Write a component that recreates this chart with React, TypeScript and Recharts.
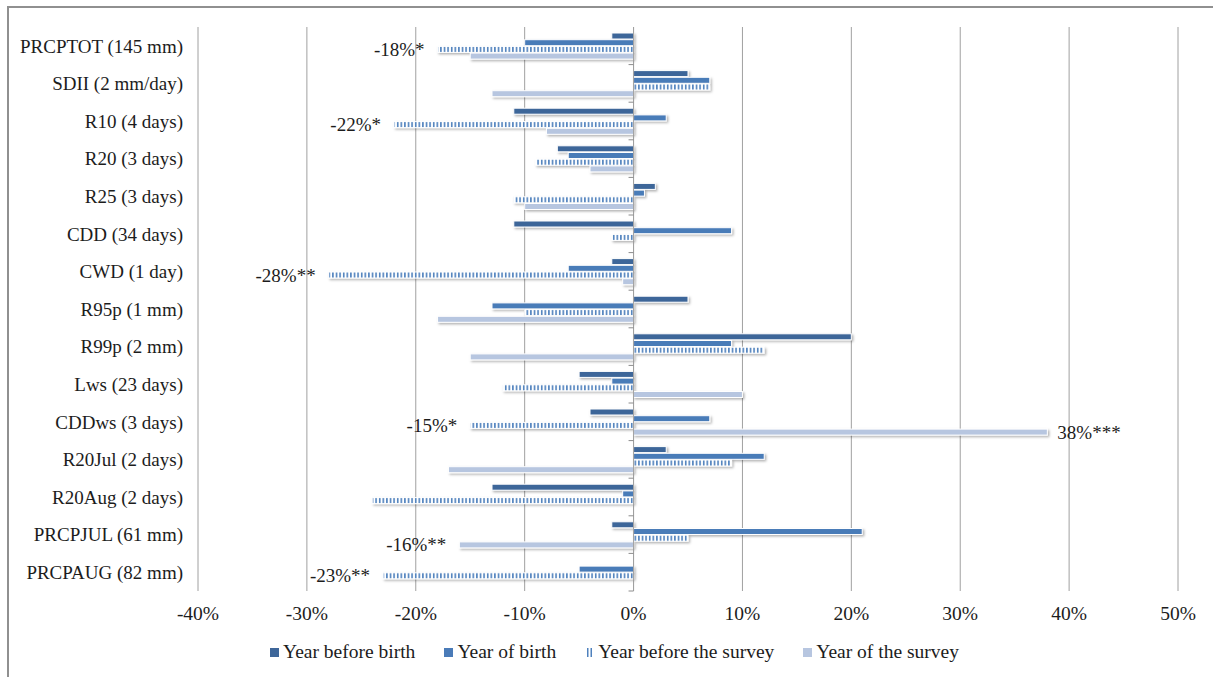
import React from "react";
import { BarChart, Bar, XAxis, YAxis, CartesianGrid, Legend, LabelList, ReferenceLine } from "recharts";

const categories = [
  "PRCPTOT (145 mm)",
  "SDII (2 mm/day)",
  "R10 (4 days)",
  "R20 (3 days)",
  "R25 (3 days)",
  "CDD (34 days)",
  "CWD (1 day)",
  "R95p (1 mm)",
  "R99p (2 mm)",
  "Lws (23 days)",
  "CDDws (3 days)",
  "R20Jul (2 days)",
  "R20Aug (2 days)",
  "PRCPJUL (61 mm)",
  "PRCPAUG (82 mm)",
];

const seriesNames = ["Year before birth", "Year of birth", "Year before the survey", "Year of the survey"];

const yearBeforeBirth = [-2, 5, -11, -7, 2, -11, -2, 5, 20, -5, -4, 3, -13, -2, 0];
const yearOfBirth = [-10, 7, 3, -6, 1, 9, -6, -13, 9, -2, 7, 12, -1, 21, -5];
const yearBeforeSurvey = [-18, 7, -22, -9, -11, -2, -28, -10, 12, -12, -15, 9, -24, 5, -23];
const yearOfSurvey = [-15, -13, -8, -4, -10, 0, -1, -18, -15, 10, 38, -17, 0, -16, 0];

const yearBeforeSurveyNotes = ["-18%*", "", "-22%*", "", "", "", "-28%**", "", "", "", "-15%*", "", "", "", "-23%**"];
const yearOfSurveyNotes = ["", "", "", "", "", "", "", "", "", "", "38%***", "", "", "-16%**", ""];

const xTicks = [-40, -30, -20, -10, 0, 10, 20, 30, 40, 50];

const data = categories.map((name, i) => ({
  name,
  ybb: yearBeforeBirth[i],
  yob: yearOfBirth[i],
  ybs: yearBeforeSurvey[i],
  yos: yearOfSurvey[i],
  ybsNote: yearBeforeSurveyNotes[i],
  yosNote: yearOfSurveyNotes[i],
}));

const C_YBB = "#3E6699";
const C_YOB = "#4A7BB8";
const C_STRIPE = "#4F81BD";
const C_YOS = "#B7C6E0";
const GRID = "#A0A0A0";
const FONT = "'Liberation Serif', 'Times New Roman', serif";
const TEXT = "#1c1c1c";

const BarShape = (props: any) => {
  const { x, y, width, height, fill } = props;
  if (!width || Math.abs(width) < 0.5) return null;
  const left = Math.min(x, x + width);
  const w = Math.abs(width);
  return (
    <rect
      x={left}
      y={y}
      width={w}
      height={height}
      fill={fill}
      stroke="#ffffff"
      strokeWidth={1}
      filter="url(#barShadow)"
    />
  );
};

const Note = (props: any) => {
  const { x, y, width, height, value } = props;
  if (!value) return null;
  const left = Math.min(x, x + width);
  const right = Math.max(x, x + width);
  const neg = String(value).startsWith("-");
  return (
    <text
      x={neg ? left - 13 : right + 10}
      y={y + height / 2}
      textAnchor={neg ? "end" : "start"}
      dominantBaseline="central"
      style={{ fontFamily: FONT, fontSize: 19 }}
      fill={TEXT}
    >
      {value}
    </text>
  );
};

// category-boundary tick marks drawn on the zero line (category axis crosses at 0)
const ZeroTicks = (props: any) => {
  const vb = props.viewBox || {};
  const x0 = vb.x ?? 0;
  const top = vb.y ?? 0;
  const h = vb.height ?? 0;
  const n = categories.length;
  const marks = [];
  for (let k = 1; k <= n; k++) {
    const yy = top + (h * k) / n;
    marks.push(<line key={k} x1={x0 - 5} x2={x0} y1={yy} y2={yy} stroke="#8C8C8C" strokeWidth={1} />);
  }
  return <g>{marks}</g>;
};

const legendFills = [C_YBB, C_YOB, "stripes", C_YOS];

const LegendContent = () => (
  <div
    style={{
      display: "flex",
      justifyContent: "center",
      gap: 29,
      paddingLeft: 16,
      fontFamily: FONT,
      fontSize: 19.5,
      color: TEXT,
      lineHeight: "22px",
    }}
  >
    {seriesNames.map((n, i) => (
      <div key={n} style={{ display: "flex", alignItems: "center" }}>
        <svg width={9} height={9} style={{ marginRight: 4 }}>
          {legendFills[i] === "stripes" ? (
            <g>
              <rect x={2} y={0} width={1.5} height={9} fill={C_STRIPE} />
              <rect x={5.5} y={0} width={1.5} height={9} fill={C_STRIPE} />
            </g>
          ) : (
            <rect x={0} y={0} width={9} height={9} fill={legendFills[i]} />
          )}
        </svg>
        <span>{n}</span>
      </div>
    ))}
  </div>
);

export default function App() {
  return (
    <div
      style={{
        position: "fixed",
        left: 0,
        top: 0,
        width: 1213,
        height: 677,
        overflow: "hidden",
        background: "#fff",
      }}
    >
      <svg width={0} height={0} style={{ position: "absolute" }}>
        <defs>
          <pattern id="stripes" patternUnits="userSpaceOnUse" width={3.6} height={10}>
            <rect x={0} y={0} width={3.6} height={10} fill="#ffffff" />
            <rect x={0.9} y={0} width={1.6} height={10} fill={C_STRIPE} />
          </pattern>
          <filter id="barShadow" x="-20%" y="-100%" width="150%" height="350%">
            <feDropShadow dx={1.5} dy={1.5} stdDeviation={1} floodColor="#000" floodOpacity={0.3} />
          </filter>
        </defs>
      </svg>
      <div
        style={{
          position: "absolute",
          left: 7,
          top: 6,
          width: 1240,
          height: 700,
          borderLeft: "2px solid #909090",
          borderTop: "2px solid #909090",
        }}
      />
      <div style={{ position: "absolute", left: 0, top: 0 }}>
        <BarChart
          width={1213}
          height={677}
          data={data}
          layout="vertical"
          margin={{ top: 27, right: 35, bottom: 56, left: 0 }}
          barGap={0.7}
        >
          <CartesianGrid horizontal={false} vertical={true} stroke={GRID} strokeWidth={1} />
          <XAxis
            type="number"
            domain={[-40, 50]}
            ticks={xTicks}
            allowDataOverflow
            tickFormatter={(v: number) => `${v}%`}
            axisLine={false}
            tickLine={false}
            tickMargin={9}
            height={30}
            tick={{ style: { fontFamily: FONT, fontSize: 19.5 }, fill: TEXT }}
          />
          <XAxis
            xAxisId="top"
            orientation="top"
            type="number"
            domain={[-40, 50]}
            ticks={xTicks}
            allowDataOverflow
            tick={false}
            tickLine={{ stroke: GRID }}
            tickSize={6}
            axisLine={{ stroke: GRID }}
            height={0}
          />
          <YAxis
            type="category"
            dataKey="name"
            width={198}
            axisLine={false}
            tickLine={false}
            tickSize={6}
            tickMargin={9}
            interval={0}
            tick={{ style: { fontFamily: FONT, fontSize: 19 }, fill: TEXT }}
          />
          <ReferenceLine x={0} stroke={GRID} strokeWidth={1} label={<ZeroTicks />} />
          <Bar dataKey="ybb" name={seriesNames[0]} fill={C_YBB} barSize={6} isAnimationActive={false} shape={BarShape} />
          <Bar dataKey="yob" name={seriesNames[1]} fill={C_YOB} barSize={6} isAnimationActive={false} shape={BarShape} />
          <Bar dataKey="ybs" name={seriesNames[2]} fill="url(#stripes)" barSize={6} isAnimationActive={false} shape={BarShape}>
            <LabelList dataKey="ybsNote" content={Note} />
          </Bar>
          <Bar dataKey="yos" name={seriesNames[3]} fill={C_YOS} barSize={6} isAnimationActive={false} shape={BarShape}>
            <LabelList dataKey="yosNote" content={Note} />
          </Bar>
          <Legend
            layout="horizontal"
            verticalAlign="middle"
            align="center"
            content={LegendContent}
            wrapperStyle={{ position: "absolute", top: 641, left: 0, width: 1213, height: 24 }}
          />
        </BarChart>
      </div>
    </div>
  );
}
